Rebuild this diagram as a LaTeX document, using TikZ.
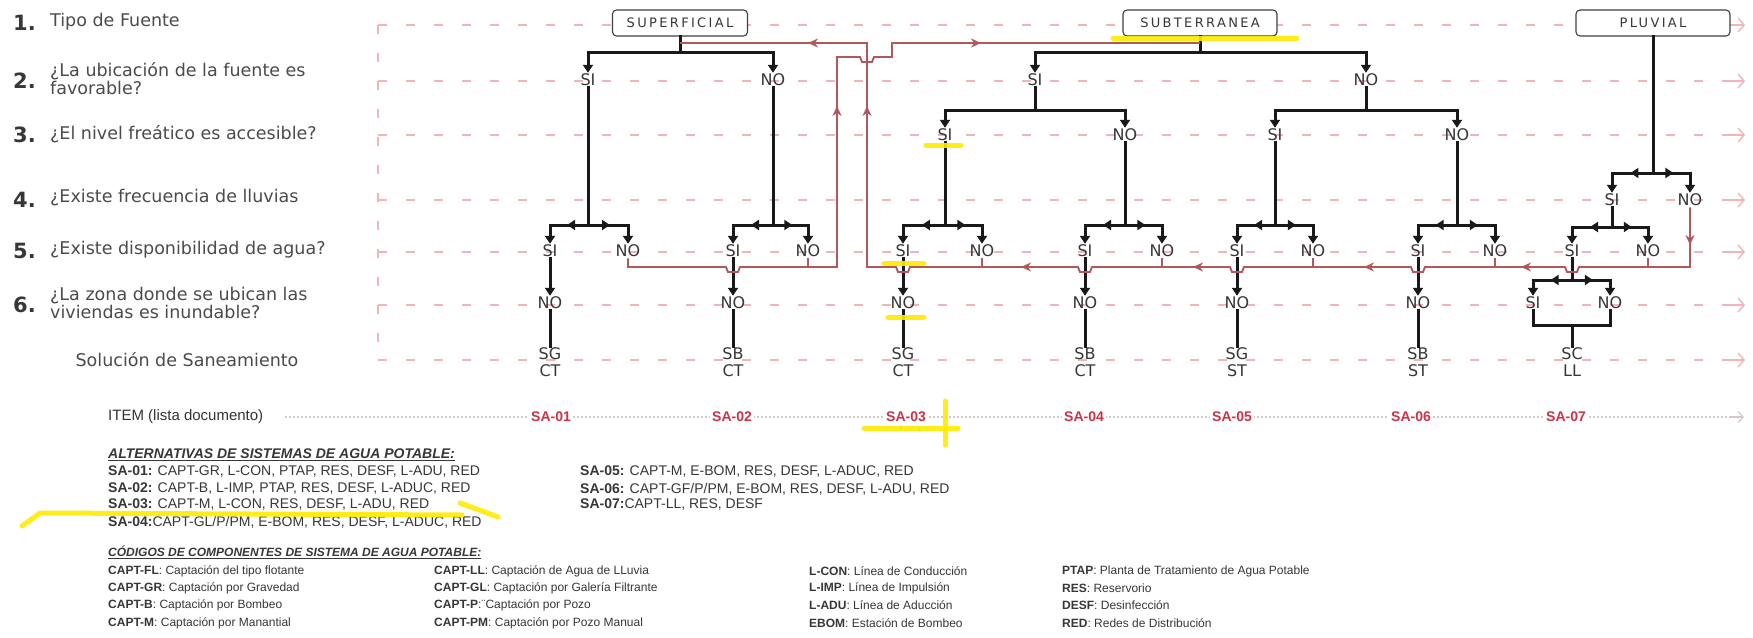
\documentclass[tikz,border=0pt]{standalone}
\usepackage{fontspec}
\setmainfont{Liberation Sans}
\newfontfamily\dv{DejaVu Sans}
\newfontfamily\dvbox{DejaVu Sans}[LetterSpace=18]
\usetikzlibrary{arrows.meta,decorations.markings}
\definecolor{txt}{RGB}{55,55,55}
\definecolor{flow}{RGB}{178,88,90}
\definecolor{guide}{RGB}{240,180,185}
\definecolor{dotg}{RGB}{215,200,200}
\definecolor{itemred}{RGB}{205,50,70}
\definecolor{hl}{RGB}{255,235,0}
\newcommand\fs[2]{\fontsize{#1}{#2}\selectfont}
\tikzset{
  yn/.style={font=\dv\fs{16}{17}, text=txt, inner sep=1pt},
  soln/.style={font=\dv\fs{16}{17}, text=txt, inner sep=1pt, align=center},
  srcbox/.style={draw=black!75, fill=white, rounded corners=4pt, line width=1.1pt, minimum height=26pt, font=\dvbox\fs{13}{14}, text=txt},
  blk/.style={line width=3pt, draw=black!90, line cap=rect},
  blkarr/.style={blk, -{Triangle[length=8pt,width=10pt]}},
  midout/.style={blk, decoration={markings, mark=at position 0.55 with {\arrow{Triangle[length=8pt,width=10pt]}}}, postaction={decorate}},
  fl/.style={line width=1.9pt, draw=flow},
  flarr/.style={line width=1.9pt, draw=flow, -{Stealth[length=10pt,width=9pt]}},
  guideline/.style={draw=guide, line width=1.3pt, dash pattern=on 9pt off 19pt},
  num/.style={font=\dv\bfseries\fs{21}{22}, text=txt, anchor=west, inner sep=0pt},
  lab/.style={font=\dv\fs{17.5}{18}, text=txt!90, anchor=west, align=left, inner sep=0pt},
  sacode/.style={font=\bfseries\fs{14}{14}, text=itemred, fill=white, inner sep=2pt},
  leg/.style={font=\fs{14}{14}, text=txt, anchor=west, inner sep=0pt},
  cod/.style={font=\fs{12}{12}, text=txt, anchor=west, inner sep=0pt},
  hlmark/.style={draw=hl, line width=5pt, opacity=0.9, line cap=round, line join=round}
}
\newcommand\splitbar[5]{%
  \draw[blk] (#1.south) -- (#1.south |- 0,#2);
  \draw[#5] (#1.south |- 0,#2) -- (#3.north |- 0,#2);
  \draw[#5] (#1.south |- 0,#2) -- (#4.north |- 0,#2);
  \draw[blkarr] (#3.north |- 0,#2) -- (#3.north);
  \draw[blkarr] (#4.north |- 0,#2) -- (#4.north);
}
\begin{document}
\begin{tikzpicture}[x=1pt,y=-1pt]
\useasboundingbox (0,0) rectangle (1753,637);
\fill[white] (0,0) rectangle (1753,637);

% guide lines
\foreach \yy in {25,81,135,200,252,305,360}{
  \draw[guideline] (378,\yy) -- (1736,\yy);
  \draw[draw=guide, line width=1.4pt, -{Straight Barb[length=6pt,width=14pt]}] (1730,\yy) -- (1745,\yy);
}
\draw[guideline] (378,25) -- (378,360);
\draw[draw=dotg, line width=1.2pt, dash pattern=on 2pt off 2pt] (285,417) -- (1736,417);
\draw[draw=dotg, line width=1.2pt, -{Straight Barb[length=5pt,width=11pt]}] (1730,417) -- (1744,417);

% row labels
\node[num] (n1) at (13,23) {1.};
\node[lab] (l1) at (50,22) {Tipo de Fuente};
\node[num] (n2) at (13,81) {2.};
\node[lab] (l2) at (50,79) {¿La ubicación de la fuente es\\favorable?};
\node[num] (n3) at (13,135) {3.};
\node[lab] (l3) at (50,134) {¿El nivel freático es accesible?};
\node[num] (n4) at (13,200) {4.};
\node[lab] (l4) at (50,198) {¿Existe frecuencia de lluvias};
\node[num] (n5) at (13,251) {5.};
\node[lab] (l5) at (50,250) {¿Existe disponibilidad de agua?};
\node[num] (n6) at (13,305) {6.};
\node[lab] (l6) at (50,303) {¿La zona donde se ubican las\\viviendas es inundable?};
\node[lab, anchor=center] (l7) at (187,360) {Solución de Saneamiento};

% source boxes
\node[srcbox, minimum width=135pt] (bS) at (680,23) {SUPERFICIAL};
\node[srcbox, minimum width=154pt] (bT) at (1200,23) {SUBTERRANEA};
\node[srcbox, minimum width=154pt] (bP) at (1653,23) {PLUVIAL};

% SUPERFICIAL
\node[yn] (sSI) at (588,80) {SI};
\node[yn] (sNO) at (773,80) {NO};
\node[yn] (s1SI5) at (550,251) {SI};
\node[yn] (s1NO5) at (628,251) {NO};
\node[yn] (s1NO6) at (550,303) {NO};
\node[soln] (sol1) at (550,362) {SG\\CT};
\node[yn] (s2SI5) at (733,251) {SI};
\node[yn] (s2NO5) at (808,251) {NO};
\node[yn] (s2NO6) at (733,303) {NO};
\node[soln] (sol2) at (733,362) {SB\\CT};

% SUBTERRANEA
\node[yn] (tSI) at (1035,80) {SI};
\node[yn] (tNO) at (1366,80) {NO};
\node[yn] (t1SI3) at (945,135) {SI};
\node[yn] (t1NO3) at (1125,135) {NO};
\node[yn] (t2SI3) at (1275,135) {SI};
\node[yn] (t2NO3) at (1457,135) {NO};
\node[yn] (u1SI5) at (903,251) {SI};
\node[yn] (u1NO5) at (982,251) {NO};
\node[yn] (u1NO6) at (903,303) {NO};
\node[soln] (sol3) at (903,362) {SG\\CT};
\node[yn] (u2SI5) at (1085,251) {SI};
\node[yn] (u2NO5) at (1162,251) {NO};
\node[yn] (u2NO6) at (1085,303) {NO};
\node[soln] (sol4) at (1085,362) {SB\\CT};
\node[yn] (u3SI5) at (1237,251) {SI};
\node[yn] (u3NO5) at (1313,251) {NO};
\node[yn] (u3NO6) at (1237,303) {NO};
\node[soln] (sol5) at (1237,362) {SG\\ST};
\node[yn] (u4SI5) at (1418,251) {SI};
\node[yn] (u4NO5) at (1495,251) {NO};
\node[yn] (u4NO6) at (1418,303) {NO};
\node[soln] (sol6) at (1418,362) {SB\\ST};

% PLUVIAL
\node[yn] (pSI4) at (1612,200) {SI};
\node[yn] (pNO4) at (1690,200) {NO};
\node[yn] (pSI5) at (1572,251) {SI};
\node[yn] (pNO5) at (1648,251) {NO};
\node[yn] (pSI6) at (1533,303) {SI};
\node[yn] (pNO6) at (1610,303) {NO};
\node[soln] (sol7) at (1572,362) {SC\\LL};

% black tree
\splitbar{bS}{52}{sSI}{sNO}{blk}
\splitbar{sSI}{225}{s1SI5}{s1NO5}{midout}
\splitbar{sNO}{225}{s2SI5}{s2NO5}{midout}
\splitbar{bT}{52}{tSI}{tNO}{blk}
\splitbar{tSI}{110}{t1SI3}{t1NO3}{blk}
\splitbar{tNO}{110}{t2SI3}{t2NO3}{blk}
\splitbar{t1SI3}{225}{u1SI5}{u1NO5}{midout}
\splitbar{t1NO3}{225}{u2SI5}{u2NO5}{midout}
\splitbar{t2SI3}{225}{u3SI5}{u3NO5}{midout}
\splitbar{t2NO3}{225}{u4SI5}{u4NO5}{midout}
\splitbar{bP}{173}{pSI4}{pNO4}{midout}
\splitbar{pSI4}{227}{pSI5}{pNO5}{midout}
\splitbar{pSI5}{280}{pSI6}{pNO6}{midout}

\foreach \a/\b/\c in {s1SI5/s1NO6/sol1, s2SI5/s2NO6/sol2, u1SI5/u1NO6/sol3, u2SI5/u2NO6/sol4, u3SI5/u3NO6/sol5, u4SI5/u4NO6/sol6}{
  \draw[blkarr] (\a.south) -- (\b.north);
  \draw[blk] (\b.south) -- (\c.north);
}
\draw[blk] (pSI6.south) -- (pSI6.south |- 0,325) -- (pNO6.south |- 0,325) -- (pNO6.south);
\draw[blk] (sol7.north |- 0,325) -- (sol7.north);

% red flow lines
\draw[fl, line join=miter] (s1NO5.south) -- (s1NO5.south |- 0,267) -- (726,267) -- (728,272) -- (738,272) -- (740,267)
  -- (837,267) -- (837,57) -- (860,57) -- (862,62) -- (872,62) -- (874,57) -- (892,57) -- (892,43) -- (bT.south |- 0,43);
\draw[fl] (s2NO5.south) -- (s2NO5.south |- 0,267);

\draw[fl, line join=miter] (pNO4.south) -- (pNO4.south |- 0,267)
  -- (1579,267) -- (1577,272) -- (1567,272) -- (1565,267)
  -- (1425,267) -- (1423,272) -- (1413,272) -- (1411,267)
  -- (1244,267) -- (1242,272) -- (1232,272) -- (1230,267)
  -- (1092,267) -- (1090,272) -- (1080,272) -- (1078,267)
  -- (910,267) -- (908,272) -- (898,272) -- (896,267)
  -- (867,267) -- (867,43) -- (bS.south |- 0,43);
\foreach \n in {u1NO5,u2NO5,u3NO5,u4NO5,pNO5}{
  \draw[fl] (\n.south) -- (\n.south |- 0,267);
}
\draw[flarr] (1690,230) -- (1690,245);
\draw[flarr] (1537,267) -- (1521,267);
\draw[flarr] (1380,267) -- (1364,267);
\draw[flarr] (1209,267) -- (1193,267);
\draw[flarr] (1037,267) -- (1021,267);
\draw[flarr] (867,122) -- (867,106);
\draw[flarr] (837,122) -- (837,106);
\draw[flarr] (824,43) -- (808,43);
\draw[flarr] (965,43) -- (981,43);

% ITEM row
\node[font=\fs{15}{15}, text=txt!95!black, anchor=west, inner sep=0pt] (item) at (108,417) {ITEM (lista documento)};
\node[sacode] (sa1) at (551,417) {SA-01};
\node[sacode] (sa2) at (732,417) {SA-02};
\node[sacode] (sa3) at (906,417) {SA-03};
\node[sacode] (sa4) at (1084,417) {SA-04};
\node[sacode] (sa5) at (1232,417) {SA-05};
\node[sacode] (sa6) at (1411,417) {SA-06};
\node[sacode] (sa7) at (1566,417) {SA-07};

% legend
\node[leg, font=\bfseries\itshape\fs{14}{14}] (alt) at (108,455) {\underline{ALTERNATIVAS DE SISTEMAS DE AGUA POTABLE:}};
\node[leg] (a1) at (108,472) {\textbf{SA-01:} CAPT-GR, L-CON, PTAP, RES, DESF, L-ADU, RED};
\node[leg] (a2) at (108,489) {\textbf{SA-02:} CAPT-B, L-IMP, PTAP, RES, DESF, L-ADUC, RED};
\node[leg] (a3) at (108,505) {\textbf{SA-03:} CAPT-M, L-CON, RES, DESF, L-ADU, RED};
\node[leg] (a4) at (108,522) {\textbf{SA-04:}CAPT-GL/P/PM, E-BOM, RES, DESF, L-ADUC, RED};
\node[leg] (a5) at (580,472) {\textbf{SA-05:} CAPT-M, E-BOM, RES, DESF, L-ADUC, RED};
\node[leg] (a6) at (580,489) {\textbf{SA-06:} CAPT-GF/P/PM, E-BOM, RES, DESF, L-ADU, RED};
\node[leg] (a7) at (580,505) {\textbf{SA-07:}CAPT-LL, RES, DESF};

\node[cod, font=\bfseries\itshape\fs{12}{12}] (cod) at (108,552) {\underline{CÓDIGOS DE COMPONENTES DE SISTEMA DE AGUA POTABLE:}};
\node[cod] (c11) at (108,571) {\textbf{CAPT-FL}: Captación del tipo flotante};
\node[cod] (c12) at (108,588) {\textbf{CAPT-GR}: Captación por Gravedad};
\node[cod] (c13) at (108,605) {\textbf{CAPT-B}: Captación por Bombeo};
\node[cod] (c14) at (108,623) {\textbf{CAPT-M}: Captación por Manantial};
\node[cod] (c21) at (434,571) {\textbf{CAPT-LL}: Captación de Agua de LLuvia};
\node[cod] (c22) at (434,588) {\textbf{CAPT-GL}: Captación por Galería Filtrante};
\node[cod] (c23) at (434,605) {\textbf{CAPT-P}:¨Captación por Pozo};
\node[cod] (c24) at (434,623) {\textbf{CAPT-PM}: Captación por Pozo Manual};
\node[cod] (c31) at (809,571) {\textbf{L-CON}: Línea de Conducción};
\node[cod] (c32) at (809,588) {\textbf{L-IMP}: Línea de Impulsión};
\node[cod] (c33) at (809,605) {\textbf{L-ADU}: Línea de Aducción};
\node[cod] (c34) at (809,623) {\textbf{EBOM}: Estación de Bombeo};
\node[cod] (c41) at (1062,571) {\textbf{PTAP}: Planta de Tratamiento de Agua Potable};
\node[cod] (c42) at (1062,588) {\textbf{RES}: Reservorio};
\node[cod] (c43) at (1062,605) {\textbf{DESF}: Desinfección};
\node[cod] (c44) at (1062,623) {\textbf{RED}: Redes de Distribución};

% yellow highlight marks
\draw[hlmark] (1113,38) -- (1297,38);
\draw[hlmark] (926,145) -- (961,145);
\draw[hlmark] (884,263) -- (924,263);
\draw[hlmark] (888,317) -- (924,317);
\draw[hlmark] (864,428) -- (958,428);
\draw[hlmark] (945,401) -- (945,445);
\draw[hlmark] (22,526) -- (40,513) -- (462,515);
\draw[hlmark] (460,503) -- (498,517);
\end{tikzpicture}
\end{document}
